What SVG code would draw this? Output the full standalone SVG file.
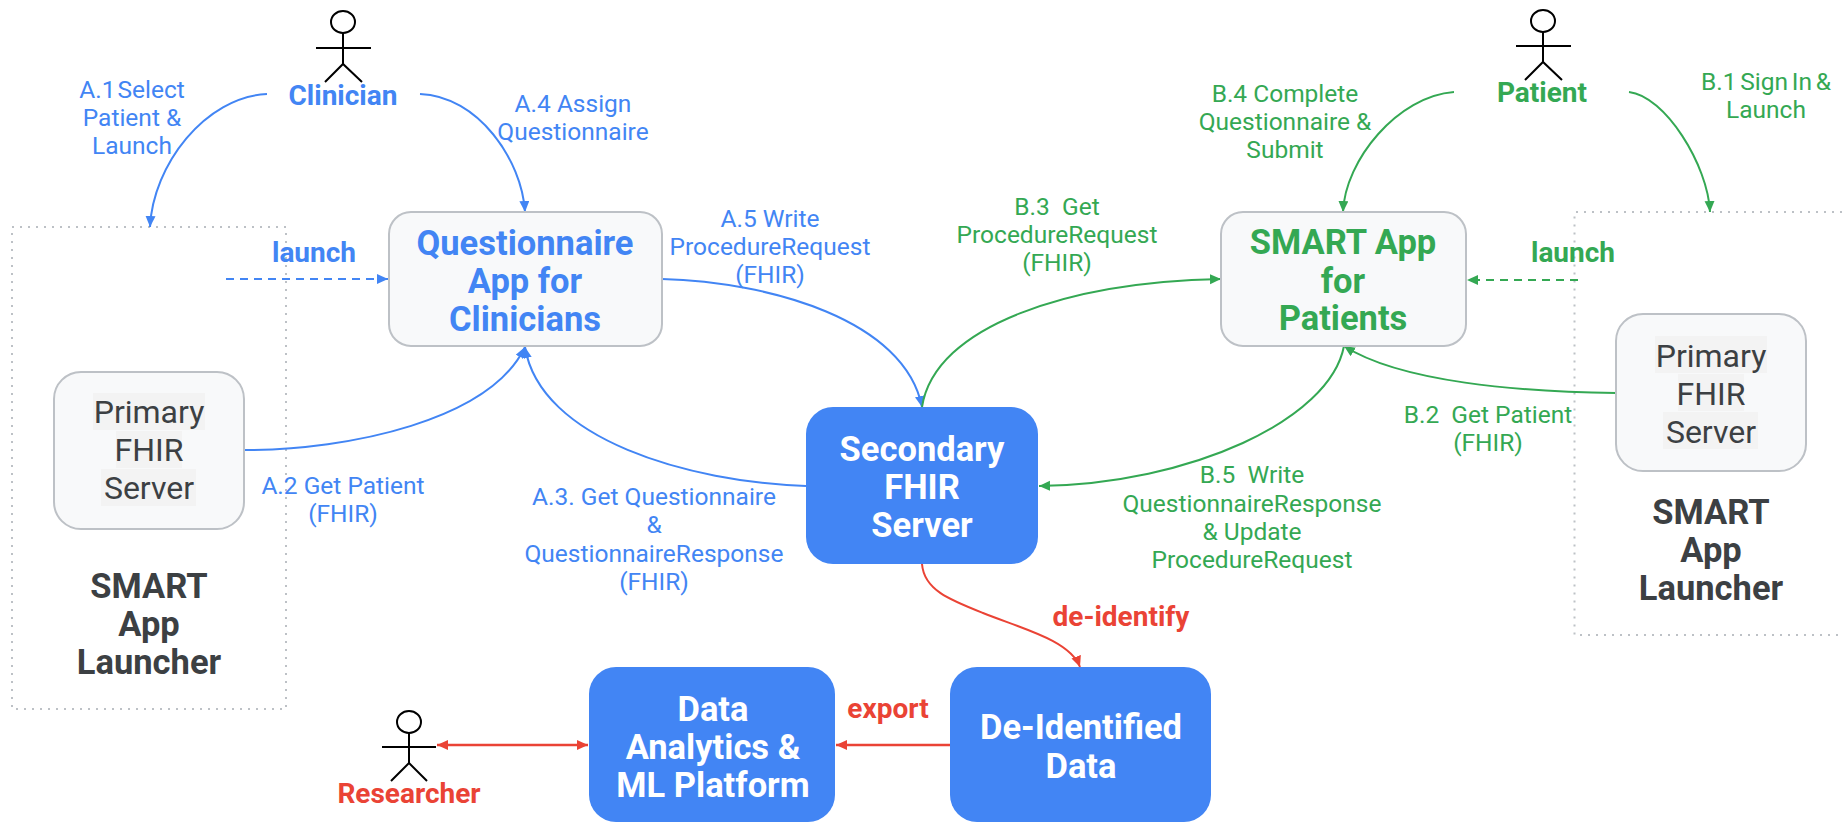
<svg xmlns="http://www.w3.org/2000/svg" width="1842" height="822" viewBox="0 0 1842 822">
<style>
text{font-family:Roboto,"Open Sans",sans-serif;text-anchor:middle}
.lb{font-size:24.500px;font-weight:400}
.nd{font-size:32px;font-weight:400}
.b{font-size:34.500px;font-weight:700;transform:translateY(1.500px)}
.hd{font-size:28px;font-weight:700;transform:translateY(1px)}
.bl{fill:#4285f4}.gr{fill:#34a853}.rd{fill:#ea4335}.dk{fill:#3c4043}.wh{fill:#fff}
.box{fill:#f8f9fa;stroke:#bdc1c6;stroke-width:2}
.solid{fill:#4285f4}
.frame{fill:none;stroke:#bdc1c6;stroke-width:2;stroke-dasharray:2 6}
.hl{fill:#f3f3f3}
.actor{fill:none;stroke:#000;stroke-width:2}
.c{fill:none;stroke-width:2}
.thick{stroke-width:2.500}
.cb{stroke:#4285f4}.cg{stroke:#34a853}.cr{stroke:#ea4335}
.dash{stroke-dasharray:8 6}
.tight1{word-spacing:-4px}
.tight2{word-spacing:-2.300px}
</style>
<defs>
<marker id="ab" markerUnits="userSpaceOnUse" markerWidth="12" markerHeight="12" refX="11" refY="5" orient="auto"><path d="M0 0L11 5L0 10Z" fill="#4285f4"/></marker>
<marker id="ag" markerUnits="userSpaceOnUse" markerWidth="12" markerHeight="12" refX="11" refY="5" orient="auto"><path d="M0 0L11 5L0 10Z" fill="#34a853"/></marker>
<marker id="ar" markerUnits="userSpaceOnUse" markerWidth="12" markerHeight="12" refX="11" refY="5" orient="auto-start-reverse"><path d="M0 0L11 5L0 10Z" fill="#ea4335"/></marker>
</defs>
<g id="launcher-left"><rect class="frame" x="12" y="227" width="274" height="482"/><text class="b dk"><tspan x="149" y="596">SMART</tspan><tspan x="149" y="634">App</tspan><tspan x="149" y="672">Launcher</tspan></text></g>
<g id="launcher-right"><path class="frame" d="M1842 212H1574.500V635H1842"/><text class="b dk"><tspan x="1711" y="522">SMART</tspan><tspan x="1711" y="560">App</tspan><tspan x="1711" y="598">Launcher</tspan></text></g>
<g id="connectors">
<path class="c cb" marker-end="url(#ab)" d="M267 94C205 97 153 165 150 227"/>
<path class="c cb" marker-end="url(#ab)" d="M420 94C478 96 522 160 525 212"/>
<path class="c cb dash" marker-end="url(#ab)" d="M226 279H388"/>
<path class="c cb" marker-end="url(#ab)" d="M244 450C350 450 490 420 525 347"/>
<path class="c cb" marker-end="url(#ab)" d="M806 486C690 482 540 440 525 347"/>
<path class="c cb" marker-end="url(#ab)" d="M662 279C770 282 905 320 922 407"/>
<path class="c cg" marker-end="url(#ag)" d="M922 407C935 325 1070 282 1221 279"/>
<path class="c cg" marker-end="url(#ag)" d="M1344 346C1330 420 1190 484 1039 486"/>
<path class="c cg" marker-end="url(#ag)" d="M1454 92C1398 96 1345 160 1343 212"/>
<path class="c cg" marker-end="url(#ag)" d="M1629 92C1665 96 1708 165 1710 212"/>
<path class="c cg dash" marker-end="url(#ag)" d="M1578 280H1467"/>
<path class="c cg" marker-end="url(#ag)" d="M1616 393C1520 392 1400 382 1344 346"/>
<path class="c cr" marker-end="url(#ar)" d="M922 564C924 590 950 600 983 613C1020 628 1070 640 1080 667"/>
<path class="c cr thick" marker-end="url(#ar)" d="M950 745H836"/>
<path class="c cr thick" marker-start="url(#ar)" marker-end="url(#ar)" d="M437 745H588"/>
</g>
<g id="clinician"><ellipse class="actor" cx="343" cy="22" rx="12" ry="11"/><path class="actor" d="M343 33V64M316 48H371M325 82L343 64L362 82"/><text class="hd bl" x="343" y="104">Clinician</text></g>
<g id="patient"><ellipse class="actor" cx="1543" cy="21" rx="12" ry="11"/><path class="actor" d="M1543 32V62M1516 46H1571M1525 80L1543 62L1562 80"/><text class="hd gr" x="1542" y="101">Patient</text></g>
<g id="researcher"><ellipse class="actor" cx="409" cy="722" rx="12" ry="11"/><path class="actor" d="M409 733V763M382 747H436M391 781L409 763L427 781"/><text class="hd rd" x="409" y="802">Researcher</text></g>
<g id="questionnaire-app"><rect class="box" x="389" y="212" width="273" height="134" rx="22"/><text class="b bl"><tspan x="525" y="253">Questionnaire</tspan><tspan x="525" y="291">App for</tspan><tspan x="525" y="329">Clinicians</tspan></text></g>
<g id="smart-app"><rect class="box" x="1221" y="212" width="245" height="134" rx="22"/><text class="b gr"><tspan x="1343" y="252">SMART App</tspan><tspan x="1343" y="291">for</tspan><tspan x="1343" y="328">Patients</tspan></text></g>
<g id="primary-left"><rect class="box" x="54" y="372" width="190" height="157" rx="27"/><rect class="hl" x="93" y="393" width="112" height="37"/><rect class="hl" x="116" y="431" width="66" height="37"/><rect class="hl" x="101" y="469" width="95" height="37"/><text class="nd dk"><tspan x="149" y="423">Primary</tspan><tspan x="149" y="461">FHIR</tspan><tspan x="149" y="499">Server</tspan></text></g>
<g id="primary-right"><rect class="box" x="1616" y="314" width="190" height="157" rx="27"/><rect class="hl" x="1655" y="336" width="112" height="37"/><rect class="hl" x="1678" y="374" width="66" height="37"/><rect class="hl" x="1663" y="412" width="95" height="37"/><text class="nd dk"><tspan x="1711" y="367">Primary</tspan><tspan x="1711" y="405">FHIR</tspan><tspan x="1711" y="443">Server</tspan></text></g>
<g id="secondary"><rect class="solid" x="806" y="407" width="232" height="157" rx="27"/><text class="b wh"><tspan x="922" y="459">Secondary</tspan><tspan x="922" y="497">FHIR</tspan><tspan x="922" y="535">Server</tspan></text></g>
<g id="deidentified"><rect class="solid" x="950" y="667" width="261" height="155" rx="27"/><text class="b wh"><tspan x="1081" y="737">De-Identified</tspan><tspan x="1081" y="776">Data</tspan></text></g>
<g id="analytics"><rect class="solid" x="589" y="667" width="246" height="155" rx="27"/><text class="b wh"><tspan x="713" y="719">Data</tspan><tspan x="713" y="757">Analytics &amp;</tspan><tspan x="713" y="795">ML Platform</tspan></text></g>
<g id="labels">
<text class="lb bl"><tspan class="tight1" x="132" y="98">A.1 Select</tspan><tspan x="132" y="126">Patient &amp;</tspan><tspan x="132" y="154">Launch</tspan></text>
<text class="lb bl"><tspan x="573" y="112">A.4 Assign</tspan><tspan x="573" y="140">Questionnaire</tspan></text>
<text class="lb bl"><tspan x="770" y="227">A.5 Write</tspan><tspan x="770" y="255">ProcedureRequest</tspan><tspan x="770" y="283">(FHIR)</tspan></text>
<text class="lb bl"><tspan x="343" y="494">A.2 Get Patient</tspan><tspan x="343" y="522">(FHIR)</tspan></text>
<text class="lb bl"><tspan x="654" y="505">A.3. Get Questionnaire</tspan><tspan x="654" y="533">&amp;</tspan><tspan x="654" y="562">QuestionnaireResponse</tspan><tspan x="654" y="590">(FHIR)</tspan></text>
<text class="lb gr"><tspan x="1057" y="215">B.3&#160; Get</tspan><tspan x="1057" y="243">ProcedureRequest</tspan><tspan x="1057" y="271">(FHIR)</tspan></text>
<text class="lb gr"><tspan x="1285" y="102">B.4 Complete</tspan><tspan x="1285" y="130">Questionnaire &amp;</tspan><tspan x="1285" y="158">Submit</tspan></text>
<text class="lb gr"><tspan class="tight2" x="1766" y="90">B.1 Sign In &amp;</tspan><tspan x="1766" y="118">Launch</tspan></text>
<text class="lb gr"><tspan x="1488" y="423">B.2&#160; Get Patient</tspan><tspan x="1488" y="451">(FHIR)</tspan></text>
<text class="lb gr"><tspan x="1252" y="483">B.5&#160; Write</tspan><tspan x="1252" y="512">QuestionnaireResponse</tspan><tspan x="1252" y="540">&amp; Update</tspan><tspan x="1252" y="568">ProcedureRequest</tspan></text>
<text class="hd bl" x="314" y="261">launch</text>
<text class="hd gr" x="1573" y="261">launch</text>
<text class="hd rd" x="1121" y="625">de-identify</text>
<text class="hd rd" x="888" y="717">export</text>
</g>
</svg>
